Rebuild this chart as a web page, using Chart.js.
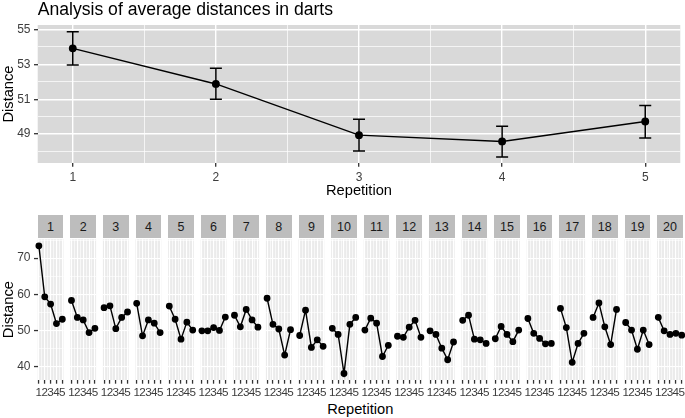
<!DOCTYPE html>
<html>
<head>
<meta charset="utf-8">
<script src="https://cdn.jsdelivr.net/npm/chart.js@4.4.1/dist/chart.umd.min.js"></script>
<style>
  html, body { margin: 0; padding: 0; background: #fff; overflow: hidden; }
  #page { position: relative; width: 685px; height: 418px; overflow: hidden; font-family: 'Liberation Sans', Arial, sans-serif; }
  #page canvas { position: absolute; }
  .strip { position: absolute; top: 215px; height: 22.8px; width: 25.8px; background: #bdbdbd; color: #1a1a1a; font-size: 12.5px; line-height: 25px; text-align: center; }
  #facet-xtitle { position: absolute; left: 37.7px; width: 645.2px; top: 400.5px; font-size: 14.67px; line-height: 17px; text-align: center; color: #000; }
</style>
</head>
<body>
<div id="page">
  <canvas id="summary-chart" width="685" height="205" style="left:0;top:0"></canvas>
  <div id="facet-xtitle">Repetition</div>
</div>
<script>
const REPETITIONS = [1, 2, 3, 4, 5];
const MEAN_DISTANCE = [53.92, 51.88, 48.94, 48.58, 49.72];
const LOWER_DISTANCE = [52.97, 51.0, 48.03, 47.69, 48.78];
const UPPER_DISTANCE = [54.87, 52.78, 49.85, 49.45, 50.64];

const PLAYERS = ['1', '2', '3', '4', '5', '6', '7', '8', '9', '10',
    '11', '12', '13', '14', '15', '16', '17', '18', '19', '20'];
const PLAYER_DISTANCES = [
    [73.4, 59.3, 57.3, 51.9, 53.1],
    [58.3, 53.6, 52.9, 49.4, 50.6],
    [56.3, 56.8, 50.5, 53.6, 55.1],
    [57.5, 48.5, 52.9, 52.0, 49.4],
    [56.7, 53.1, 47.6, 52.3, 50.1],
    [49.9, 49.9, 50.8, 50.0, 53.7],
    [54.2, 51.0, 55.8, 52.9, 50.9],
    [58.9, 51.7, 50.4, 43.2, 50.2],
    [48.6, 55.6, 45.3, 47.4, 45.6],
    [50.6, 48.9, 38.1, 51.7, 53.6],
    [50.1, 53.4, 52.0, 42.8, 45.9],
    [48.4, 48.1, 50.9, 52.8, 48.1],
    [49.9, 48.9, 45.1, 41.9, 46.8],
    [52.8, 54.2, 47.6, 47.4, 46.4],
    [47.7, 51.1, 48.9, 46.9, 50.1],
    [53.3, 49.2, 47.8, 46.3, 46.4],
    [56.1, 50.8, 41.2, 46.4, 49.2],
    [53.6, 57.6, 51.0, 46.1, 55.8],
    [52.2, 50.1, 44.8, 50.1, 46.1],
    [53.6, 49.9, 48.9, 49.2, 48.7]
];

const X_TICKS = [1, 1.5, 2, 2.5, 3, 3.5, 4, 4.5, 5];
const SUMMARY_Y_TICKS = [48, 49, 50, 51, 52, 53, 54, 55];
const SUMMARY_Y_LABELED = [49, 51, 53, 55];
const FACET_Y_TICKS = [40, 45, 50, 55, 60, 65, 70, 75];
const FACET_Y_LABELED = [40, 50, 60, 70];

const FONT = "'Liberation Sans', Arial, sans-serif";
const TICK_TEXT = '#3d3d3d';
const TICK_MARK = '#333333';
const CAP_HALF = 0.042;

Chart.defaults.font.family = FONT;

const panelBackground = {
    id: 'panelBackground',
    beforeDraw(chart, args, opts) {
        const { ctx, chartArea } = chart;
        ctx.save();
        ctx.fillStyle = opts.color || '#ebebeb';
        ctx.fillRect(chartArea.left, chartArea.top, chartArea.width, chartArea.height);
        ctx.restore();
    }
};

const errorBars = {
    id: 'errorBars',
    beforeDatasetsDraw(chart) {
        const { ctx, scales: { x, y } } = chart;
        ctx.save();
        ctx.strokeStyle = '#000';
        ctx.lineWidth = 1.5;
        REPETITIONS.forEach((rep, i) => {
            const px = x.getPixelForValue(rep);
            const left = x.getPixelForValue(rep - CAP_HALF);
            const right = x.getPixelForValue(rep + CAP_HALF);
            const top = y.getPixelForValue(UPPER_DISTANCE[i]);
            const bottom = y.getPixelForValue(LOWER_DISTANCE[i]);
            ctx.beginPath();
            ctx.moveTo(px, top);
            ctx.lineTo(px, bottom);
            ctx.moveTo(left, top);
            ctx.lineTo(right, top);
            ctx.moveTo(left, bottom);
            ctx.lineTo(right, bottom);
            ctx.stroke();
        });
        ctx.restore();
    }
};

function setTicks(values) {
    return (axis) => {
        axis.ticks = values.map((value) => ({ value }));
    };
}

function gridOptions(isMajor, showTicks, major, minor) {
    return {
        color: '#ffffff',
        lineWidth: (ctx) => (ctx.tick && isMajor(ctx.tick.value) ? major : minor),
        drawTicks: showTicks,
        tickLength: 3.7,
        tickWidth: 1.3,
        tickColor: (ctx) => (ctx.tick && isMajor(ctx.tick.value) ? TICK_MARK : 'rgba(0,0,0,0)')
    };
}

const isWholeRep = (v) => Number.isInteger(v);

function renderSummary() {
    const canvas = document.getElementById('summary-chart');
    const isMajorY = (v) => SUMMARY_Y_LABELED.includes(v);
    return new Chart(canvas, {
        type: 'line',
        data: {
            datasets: [{
                data: REPETITIONS.map((rep, i) => ({ x: rep, y: MEAN_DISTANCE[i] })),
                borderColor: '#000',
                backgroundColor: '#000',
                borderWidth: 1.5,
                pointRadius: 3.2,
                pointHoverRadius: 3.2,
                tension: 0,
                clip: false
            }]
        },
        options: {
            responsive: false,
            animation: false,
            events: [],
            layout: { padding: { left: 0, right: 3, top: 0, bottom: 0 } },
            plugins: {
                legend: { display: false },
                tooltip: { enabled: false },
                panelBackground: { color: '#d9d9d9' },
                title: {
                    display: true,
                    text: 'Analysis of average distances in darts',
                    align: 'start',
                    fullSize: false,
                    color: '#000',
                    font: { size: 17.6, weight: 'normal' },
                    padding: { top: 0, bottom: 3.9 }
                }
            },
            scales: {
                x: {
                    type: 'linear',
                    min: 0.755,
                    max: 5.245,
                    afterBuildTicks: setTicks(X_TICKS),
                    afterFit: (axis) => { axis.height = 42; },
                    border: { display: false },
                    grid: gridOptions(isWholeRep, true, 1.4, 0.7),
                    ticks: {
                        autoSkip: false,
                        maxRotation: 0,
                        padding: 4,
                        color: TICK_TEXT,
                        font: { size: 12 },
                        callback: (value) => (isWholeRep(value) ? String(value) : '')
                    },
                    title: {
                        display: true,
                        text: 'Repetition',
                        color: '#000',
                        font: { size: 14.67 },
                        padding: { top: 0, bottom: 5 }
                    }
                },
                y: {
                    type: 'linear',
                    min: 47.34,
                    max: 55.26,
                    afterBuildTicks: setTicks(SUMMARY_Y_TICKS),
                    afterFit: (axis) => { axis.width = 37.7; },
                    border: { display: false },
                    grid: gridOptions(isMajorY, true, 1.4, 0.7),
                    ticks: {
                        autoSkip: false,
                        padding: 3.5,
                        color: TICK_TEXT,
                        font: { size: 12 },
                        callback: (value) => (isMajorY(value) ? String(value) : '')
                    },
                    title: {
                        display: true,
                        text: 'Distance',
                        color: '#000',
                        font: { size: 14.67 },
                        padding: { top: 0, bottom: 0 }
                    }
                }
            }
        },
        plugins: [panelBackground, errorBars]
    });
}

const FACET_FIRST_LEFT = 37.7;
const FACET_PITCH = 32.6;
const FACET_WIDTH = 25.8;
const FACET_CANVAS_TOP = 215;
const FACET_CANVAS_HEIGHT = 190;
const FACET_AREA_TOP = 239.3;
const FACET_AREA_BOTTOM = 380;

function renderFacet(values, index) {
    const page = document.getElementById('page');
    const first = index === 0;
    const panelLeft = FACET_FIRST_LEFT + index * FACET_PITCH;
    const canvasLeft = first ? 0 : Math.floor(panelLeft) - 6;
    const canvasWidth = first ? 70 : 40;
    const padRight = canvasLeft + canvasWidth - (panelLeft + FACET_WIDTH);

    const canvas = document.createElement('canvas');
    canvas.width = canvasWidth;
    canvas.height = FACET_CANVAS_HEIGHT;
    canvas.style.left = canvasLeft + 'px';
    canvas.style.top = FACET_CANVAS_TOP + 'px';
    page.appendChild(canvas);

    const strip = document.createElement('div');
    strip.className = 'strip';
    strip.style.left = panelLeft + 'px';
    strip.textContent = PLAYERS[index];
    page.appendChild(strip);

    const isMajorY = (v) => FACET_Y_LABELED.includes(v);

    return new Chart(canvas, {
        type: 'line',
        data: {
            datasets: [{
                data: REPETITIONS.map((rep, i) => ({ x: rep, y: values[i] })),
                borderColor: '#000',
                backgroundColor: '#000',
                borderWidth: 1.4,
                pointRadius: 2.7,
                pointHoverRadius: 2.7,
                tension: 0,
                clip: false
            }]
        },
        options: {
            responsive: false,
            animation: false,
            events: [],
            layout: {
                padding: {
                    left: first ? 0 : panelLeft - canvasLeft,
                    right: padRight,
                    top: FACET_AREA_TOP - FACET_CANVAS_TOP,
                    bottom: 0
                }
            },
            plugins: {
                legend: { display: false },
                tooltip: { enabled: false },
                panelBackground: { color: '#ebebeb' }
            },
            scales: {
                x: {
                    type: 'linear',
                    min: 0.8,
                    max: 5.2,
                    afterBuildTicks: setTicks(X_TICKS),
                    afterFit: (axis) => { axis.height = FACET_CANVAS_TOP + FACET_CANVAS_HEIGHT - FACET_AREA_BOTTOM; },
                    border: { display: false },
                    grid: gridOptions(isWholeRep, true, 1.1, 0.6),
                    ticks: {
                        autoSkip: false,
                        maxRotation: 0,
                        padding: 2.5,
                        color: TICK_TEXT,
                        font: { size: 11.7 },
                        callback: (value) => (isWholeRep(value) ? String(value) : '')
                    }
                },
                y: {
                    type: 'linear',
                    min: 36.3,
                    max: 75.2,
                    afterBuildTicks: setTicks(FACET_Y_TICKS),
                    afterFit: (axis) => { axis.width = first ? FACET_FIRST_LEFT : 0; },
                    border: { display: false },
                    grid: gridOptions(isMajorY, first, 1.1, 0.6),
                    ticks: {
                        display: first,
                        autoSkip: false,
                        padding: 3.5,
                        color: TICK_TEXT,
                        font: { size: 12 },
                        callback: (value) => (isMajorY(value) ? String(value) : '')
                    },
                    title: {
                        display: first,
                        text: 'Distance',
                        color: '#000',
                        font: { size: 14.67 },
                        padding: { top: 0, bottom: 0 }
                    }
                }
            }
        },
        plugins: [panelBackground]
    });
}

renderSummary();
PLAYER_DISTANCES.forEach((values, index) => renderFacet(values, index));
</script>
</body>
</html>
